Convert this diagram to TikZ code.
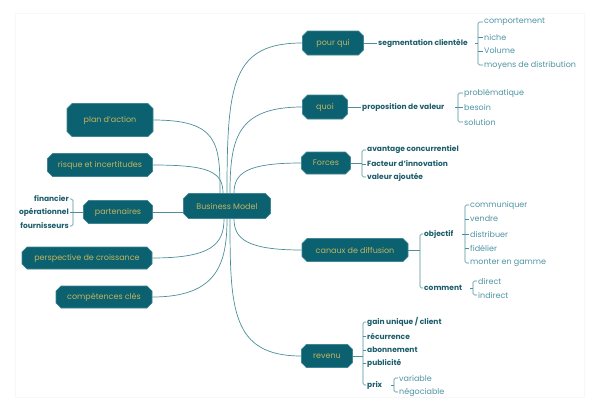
\documentclass[tikz,border=0pt]{standalone}
\usepackage{fontspec}
\setmainfont{Poppins}
\usetikzlibrary{shapes.misc,calc}
\definecolor{boxfill}{HTML}{0B6170}
\definecolor{boxedge}{HTML}{3F8794}
\definecolor{boxtext}{HTML}{C4B45E}
\definecolor{wirecol}{HTML}{4C8E9B}
\definecolor{keytext}{HTML}{1D5C6B}
\definecolor{softtext}{HTML}{4E93A2}
\begin{document}
\begin{tikzpicture}[x=1pt,y=-1pt,
  topic/.style={chamfered rectangle, chamfered rectangle xsep=2.5pt,
    chamfered rectangle ysep=2.5pt,
    fill=boxfill, draw=boxedge, line width=0.6pt, text=boxtext,
    font=\fontsize{8}{9}\selectfont, inner sep=0pt, minimum height=23pt},
  key/.style={anchor=west, inner ysep=0pt, inner xsep=1pt, text=keytext,
    font=\bfseries\fontsize{7.5}{8}\selectfont},
  soft/.style={anchor=west, inner ysep=0pt, inner xsep=1pt, text=softtext,
    font=\fontsize{8}{9}\selectfont},
  keyl/.style={key, anchor=east},
  wire/.style={draw=wirecol, line width=0.7pt},
  brk/.style={draw=wirecol, line width=0.6pt, rounded corners=1.5pt}]
\useasboundingbox (0,0) rectangle (600,413);
% faint page frame
\draw[black!3, line width=0.5pt] (15,13) rectangle (584,397);

% central topic and main branches
\node[topic, minimum width=87pt, minimum height=25pt] (bm) at (227,206) {Business Model};
\node[topic, minimum width=86pt, minimum height=33pt] (plan) at (110,120) {plan d’action};
\node[topic, minimum width=105pt] (risque) at (100,165) {risque et incertitudes};
\node[topic, minimum width=69pt] (part) at (118,212) {partenaires};
\node[topic, minimum width=130pt, minimum height=22pt] (persp) at (87,258) {perspective de croissance};
\node[topic, minimum width=96pt, minimum height=22pt] (comp) at (104,297) {compétences clés};
\node[topic, minimum width=61pt, minimum height=24pt] (pourqui) at (333,43) {pour qui};
\node[topic, minimum width=45pt, minimum height=24pt] (quoi) at (325,107) {quoi};
\node[topic, minimum width=49pt, minimum height=22pt] (forces) at (326,163) {Forces};
\node[topic, minimum width=106pt] (canaux) at (355,250) {canaux de diffusion};
\node[topic, minimum width=51pt] (revenu) at (327,356) {revenu};

% branches from the central topic
\draw[wire] (plan.east) .. controls +(65,0) and +(0,-50) .. ([xshift=-7pt]bm.north);
\draw[wire] (risque.east) .. controls +(55,0) and +(0,-22) .. ([xshift=-4pt]bm.north);
\draw[wire] (part.east) -- (part.east -| bm.west);
\draw[wire] (persp.east) .. controls +(60,0) and +(0,25) .. ([xshift=-3pt]bm.south);
\draw[wire] (comp.east) .. controls +(65,0) and +(0,45) .. (bm.south);
\draw[wire] (bm.north) .. controls +(0,-110) and +(-70,0) .. (pourqui.west);
\draw[wire] ([xshift=3pt]bm.north) .. controls +(0,-55) and +(-65,0) .. (quoi.west);
\draw[wire] ([xshift=7pt]bm.north) .. controls +(0,-20) and +(-55,0) .. (forces.west);
\draw[wire] ([xshift=7pt]bm.south) .. controls +(0,20) and +(-55,0) .. (canaux.west);
\draw[wire] ([xshift=3pt]bm.south) .. controls +(0,90) and +(-70,0) .. (revenu.west);

% partenaires
\node[keyl] (fin) at (70,199) {financier};
\node[keyl] (ope) at (70,212) {opérationnel};
\node[keyl] (fou) at (70,226) {fournisseurs};
\coordinate (bpart) at (73,212);
\draw[brk] (fin.east) -| (bpart) |- (fou.east);
\draw[wire] (ope.east) -- (part.west);

% pour qui
\node[key] (segm) at (377,43) {segmentation clientèle};
\draw[wire] (pourqui.east) -- (segm.west);
\coordinate (bsegm) at (478,43);
\node[soft] (c1) at (483,22) {comportement};
\node[soft] (c2) at (483,37) {niche};
\node[soft] (c3) at (483,51) {Volume};
\node[soft] (c4) at (483,65) {moyens de distribution};
\draw[brk] (c1.west) -| (bsegm) |- (c4.west);
\draw[brk] (c2.west) -- (c2.west -| bsegm);
\draw[brk] (c3.west) -- (c3.west -| bsegm);
\draw[brk] (bsegm) -- ++(-3,0);

% quoi
\node[key] (prop) at (361,107) {proposition de valeur};
\draw[wire] (quoi.east) -- (prop.west);
\coordinate (bprop) at (458,107);
\node[soft] (p1) at (463,93) {problématique};
\node[soft] (p2) at (463,107) {besoin};
\node[soft] (p3) at (463,122) {solution};
\draw[brk] (p1.west) -| (bprop) |- (p3.west);
\draw[brk] (bprop) ++(-3,0) -- (p2.west);

% Forces
\coordinate (bforces) at (362,163);
\node[key] (f1) at (366,150) {avantage concurrentiel};
\node[key] (f2) at (366,164) {Facteur d’innovation};
\node[key] (f3) at (366,177) {valeur ajoutée};
\draw[wire] (forces.east) -- (bforces);
\draw[brk] (f1.west) -| (bforces) |- (f3.west);
\draw[brk] (f2.west) -- (f2.west -| bforces);

% canaux de diffusion
\coordinate (bcanaux) at (420,250);
\node[key] (obj) at (423,234) {objectif};
\node[key] (com) at (423,288) {comment};
\draw[wire] (canaux.east) -- (bcanaux);
\draw[brk] (obj.west) -| (bcanaux) |- (com.west);
\coordinate (bobj) at (465,234);
\node[soft] (o1) at (469,205) {communiquer};
\node[soft] (o2) at (469,219) {vendre};
\node[soft] (o3) at (469,234) {distribuer};
\node[soft] (o4) at (469,248) {fidélier};
\node[soft] (o5) at (469,263) {monter en gamme};
\draw[brk] (o1.west) -| (bobj) |- (o5.west);
\draw[brk] (o2.west) -- (o2.west -| bobj);
\draw[brk] (bobj) ++(-3,0) -- (o3.west);
\draw[brk] (o4.west) -- (o4.west -| bobj);
\coordinate (bcom) at (473,288);
\node[soft] (m1) at (477,281) {direct};
\node[soft] (m2) at (477,295) {indirect};
\draw[brk] (m1.west) -| (bcom) |- (m2.west);
\draw[brk] (bcom) -- ++(-3,0);

% revenu
\coordinate (brev) at (363,356);
\node[key] (r1) at (366,322) {gain unique / client};
\node[key] (r2) at (366,336) {récurrence};
\node[key] (r3) at (366,350) {abonnement};
\node[key] (r4) at (366,363) {publicité};
\node[key] (r5) at (366,385) {prix};
\draw[wire] (revenu.east) -- (brev);
\draw[brk] (r1.west) -| (brev) |- (r5.west);
\draw[brk] (r2.west) -- (r2.west -| brev);
\draw[brk] (r3.west) -- (r3.west -| brev);
\draw[brk] (r4.west) -- (r4.west -| brev);
\coordinate (bprix) at (394,385);
\node[soft] (x1) at (398,378) {variable};
\node[soft] (x2) at (398,392) {négociable};
\draw[brk] (x1.west) -| (bprix) |- (x2.west);
\draw[brk] (bprix) -- ++(-3,0);
\end{tikzpicture}
\end{document}
